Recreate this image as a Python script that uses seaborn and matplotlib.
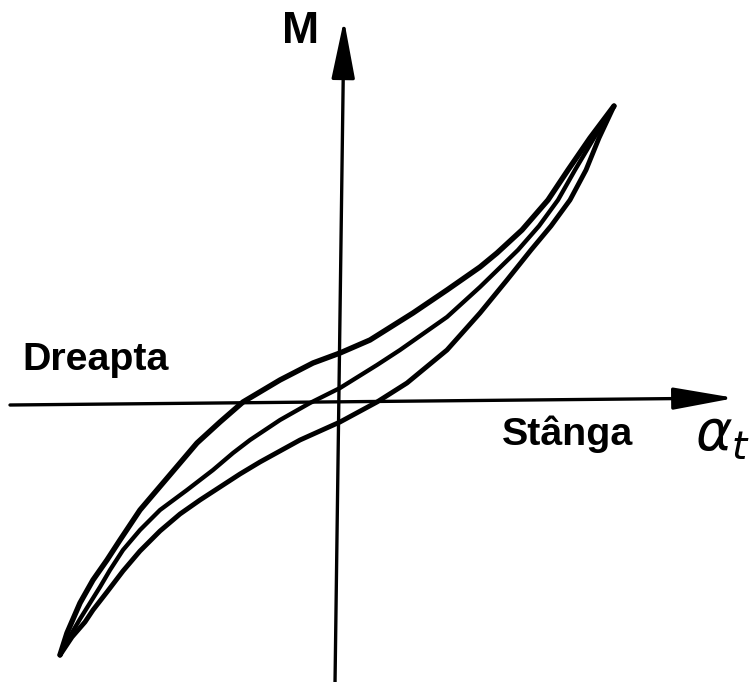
import matplotlib
matplotlib.use("Agg")
import matplotlib.pyplot as plt
import pandas as pd
import seaborn as sns

sns.set_theme(style="white")
plt.rcParams["font.family"] = ["Liberation Sans", "DejaVu Sans"]

# Torque M versus slip angle alpha_t: hysteresis loop with the upper branch,
# the mean curve and the lower branch, all meeting at the two extremes.
upper_alpha = [-2.80, -2.73, -2.60, -2.47, -2.33, -2.20, -2.00, -1.83, -1.60,
               -1.43, -1.20, -0.97, -0.60, -0.27, 0.00, 0.30, 0.73, 1.07,
               1.40, 1.57, 1.82, 2.08, 2.28, 2.50, 2.74]
upper_m = [-2.53, -2.31, -2.01, -1.78, -1.58, -1.38, -1.08, -0.88, -0.61,
           -0.41, -0.20, 0.00, 0.22, 0.39, 0.49, 0.62, 0.89, 1.12,
           1.35, 1.49, 1.72, 2.02, 2.32, 2.64, 2.96]

middle_alpha = [-2.80, -2.70, -2.60, -2.50, -2.40, -2.30, -2.17, -2.00, -1.80,
                -1.53, -1.27, -1.07, -0.90, -0.60, -0.30, 0.00, 0.37, 0.60,
                1.07, 1.40, 1.78, 1.99, 2.18, 2.35, 2.54, 2.74]
middle_m = [-2.53, -2.34, -2.17, -2.01, -1.85, -1.68, -1.48, -1.28, -1.08,
            -0.88, -0.68, -0.51, -0.38, -0.18, -0.01, 0.14, 0.37, 0.52,
            0.85, 1.15, 1.52, 1.76, 2.02, 2.32, 2.64, 2.96]

lower_alpha = [-2.80, -2.68, -2.55, -2.47, -2.33, -2.17, -2.00, -1.80, -1.60,
               -1.40, -1.20, -1.00, -0.80, -0.40, 0.00, 0.37, 0.67, 1.07,
               1.40, 1.67, 1.91, 2.11, 2.30, 2.46, 2.59, 2.74]
lower_m = [-2.53, -2.35, -2.20, -2.08, -1.90, -1.69, -1.49, -1.29, -1.12,
           -0.98, -0.85, -0.72, -0.60, -0.38, -0.20, 0.00, 0.19, 0.52,
           0.89, 1.22, 1.52, 1.76, 2.02, 2.32, 2.64, 2.96]

axis_labels = {"M": "M", "left": "Dreapta", "right": "Stânga"}

fig = plt.figure(figsize=(7.53, 6.82), dpi=100)
ax = fig.add_axes([0, 0, 1, 1])
ax.set_xlim(-3.40, 4.13)
ax.set_ylim(-2.80, 4.02)
ax.axis("off")

branches = [
    ("upper", upper_alpha, upper_m, 3.9),
    ("middle", middle_alpha, middle_m, 3.1),
    ("lower", lower_alpha, lower_m, 3.5),
]
for name, xs, ys, lw in branches:
    df = pd.DataFrame({"alpha": xs, "M": ys})
    sns.lineplot(data=df, x="alpha", y="M", sort=False, estimator=None,
                 color="black", lw=lw, ax=ax, solid_capstyle="round",
                 solid_joinstyle="round")

# coordinate axes drawn as arrows
ax.annotate("", xy=(0.04, 3.82), xytext=(-0.05, -2.82),
            arrowprops=dict(arrowstyle="-|>,head_length=1.8,head_width=0.36",
                            mutation_scale=20, lw=2.4, color="black",
                            shrinkA=0, shrinkB=0))
ax.annotate("", xy=(3.95, 0.04), xytext=(-3.30, -0.03),
            arrowprops=dict(arrowstyle="-|>,head_length=1.9,head_width=0.34",
                            mutation_scale=20, lw=2.4, color="black",
                            shrinkA=0, shrinkB=0))

ax.text(-0.58, 3.59, axis_labels["M"], fontsize=32, fontweight="bold",
        ha="left", va="baseline", color="black")
ax.text(-3.18, 0.32, axis_labels["left"], fontsize=28.4, fontweight="bold",
        ha="left", va="baseline", color="black")
ax.text(1.62, -0.43, axis_labels["right"], fontsize=28.4, fontweight="bold",
        ha="left", va="baseline", color="black")
ax.text(3.55, -0.48, r"$\alpha_t$", fontsize=40, ha="left", va="baseline",
        color="black", family=["DejaVu Sans"])

fig.savefig("out.png", dpi=100, facecolor="white")
